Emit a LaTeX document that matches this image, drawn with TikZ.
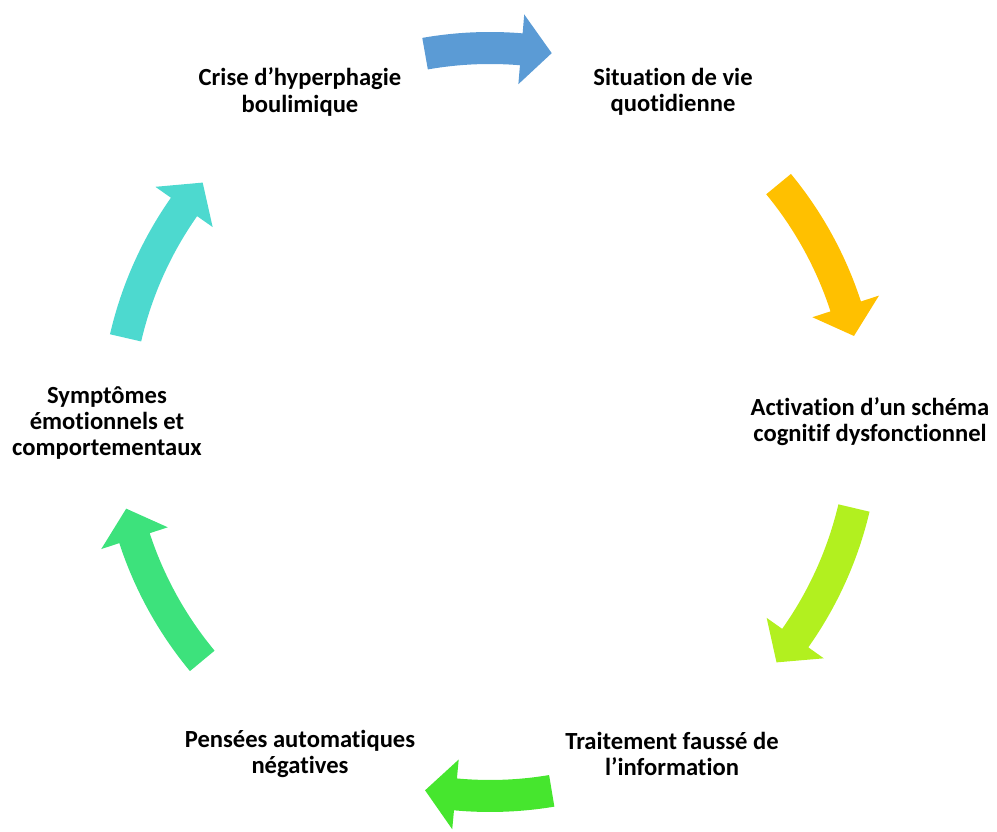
\documentclass[tikz,border=0pt]{standalone}
\usepackage{fontspec}
\setmainfont{Carlito}[Ligatures=NoCommon]

\definecolor{arrblue}{HTML}{5B9BD5}
\definecolor{arryellow}{HTML}{FFC000}
\definecolor{arrlime}{HTML}{B2F01F}
\definecolor{arrgreen}{HTML}{46E62E}
\definecolor{arremerald}{HTML}{3DE27C}
\definecolor{arrteal}{HTML}{4DD9CF}

% curved block arrow on the cycle: colour, from angle, to angle
\newcommand{\cyclearrow}[3]{%
  \fill[#1] (#2:390) arc[start angle=#2, end angle=#3+4.7, radius=390]
    -- (#3+4.7:409) -- (#3:374) -- (#3+4.7:339) -- (#3+4.7:358)
    arc[start angle=#3+4.7, end angle=#2, radius=358] -- cycle;}

\begin{document}
\begin{tikzpicture}[x=0.025cm,y=0.025cm,
  stage/.style={align=center,font=\fontsize{17.5}{18.6}\selectfont\bfseries}]

\useasboundingbox (0,0) rectangle (997,832);

\node (crise) at (300,740) [stage] {Crise d’hyperphagie\\boulimique};
\node (situation) at (673,740) [stage] {Situation de vie\\quotidienne};
\node (activation) at (870,410) [stage] {Activation d’un schéma\\cognitif dysfonctionnel};
\node (traitement) at (672,78) [stage] {Traitement faussé de\\l’information};
\node (pensees) at (300,78) [stage] {Pensées automatiques\\négatives};
\node (symptomes) at (107,409) [stage] {Symptômes\\émotionnels et\\comportementaux};

\begin{scope}[shift={(490,410)}]
\cyclearrow{arrblue}{100}{80.5}
\cyclearrow{arryellow}{39.5}{13.3}
\cyclearrow{arrlime}{-13.3}{-40}
\cyclearrow{arrgreen}{-80.5}{-100}
\cyclearrow{arremerald}{219.7}{193.4}
\cyclearrow{arrteal}{167}{140.2}
\end{scope}

\end{tikzpicture}
\end{document}
